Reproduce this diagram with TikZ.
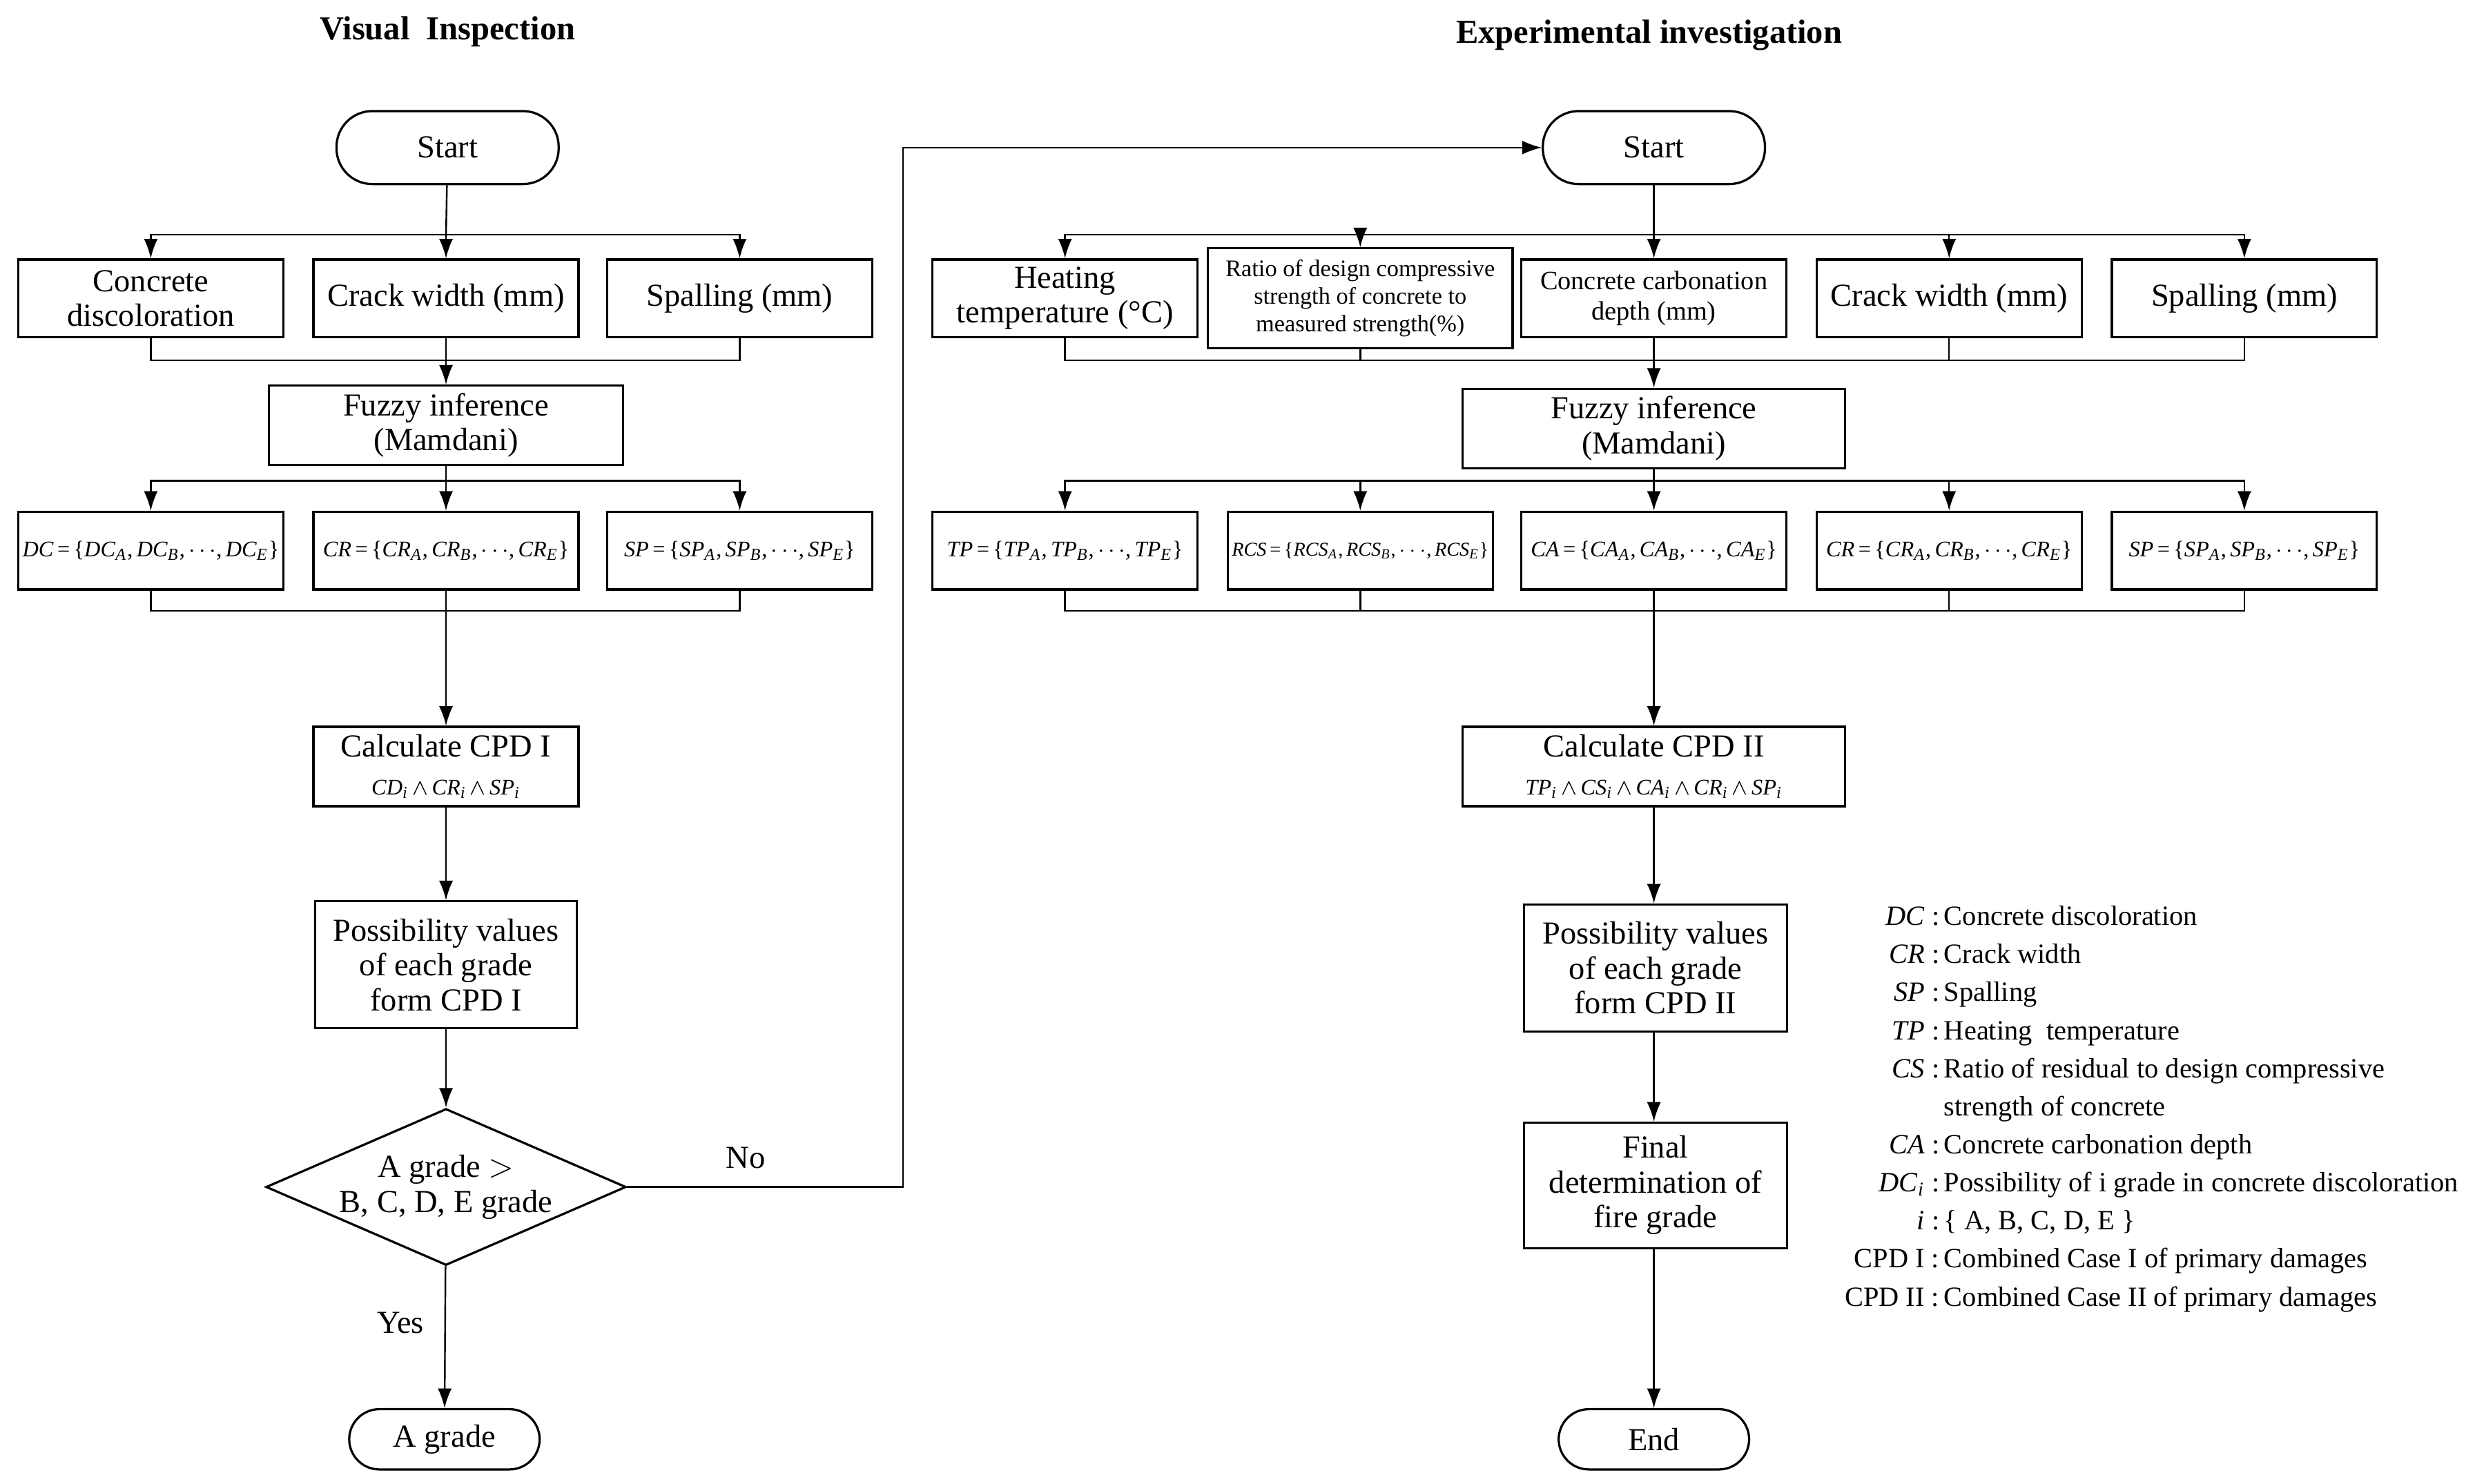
\documentclass[tikz,border=0pt]{standalone}
\usepackage{fontspec}
\setmainfont{Liberation Serif}
\usetikzlibrary{shapes.geometric,arrows.meta}
\newcommand{\vr}[2]{\textit{#1}\textsubscript{\textit{#2}}}
\newcommand{\vset}[1]{\textit{#1}\,=\,\{\vr{#1}{A},\,\vr{#1}{B},\,$\cdots$,\,\vr{#1}{E}\}}
\tikzset{
	box/.style={draw, line width=0.8pt, minimum width=3.34cm, minimum height=0.98cm, align=center, inner sep=1pt, font=\fontsize{11.5}{12.5}\selectfont},
	term/.style={draw, line width=0.8pt, rounded corners=0.45cm, minimum width=2.8cm, minimum height=0.92cm, font=\fontsize{11.5}{12.5}\selectfont},
	fml/.style={box, font=\fontsize{8}{9}\selectfont},
	arr/.style={-{Latex[length=7pt,width=5pt]}, line width=0.6pt},
	ln/.style={line width=0.6pt}
}
\begin{document}
\begin{tikzpicture}[x=0.02cm, y=-0.02cm]
	\useasboundingbox (0,0) rectangle (1565,935);
	\node[font=\bfseries\fontsize{12}{14}\selectfont] (t1) at (282,20) {Visual\ \ Inspection};
	\node[font=\bfseries\fontsize{12}{14}\selectfont] (t2) at (1039,22) {Experimental investigation};

	%Visual inspection
	\node[term] (ls1) at (282,93) {Start};
	\node[box] (lc1) at (95,188) {Concrete\\discoloration};
	\node[box] (lc2) at (281,188) {Crack width (mm)};
	\node[box] (lc3) at (466,188) {Spalling (mm)};
	\node[box, minimum width=4.46cm, minimum height=1cm] (lf) at (281,268) {Fuzzy inference\\(Mamdani)};
	\node[fml] (lm1) at (95,347) {\vset{DC}};
	\node[fml] (lm2) at (281,347) {\vset{CR}};
	\node[fml] (lm3) at (466,347) {\vset{SP}};
	\node[box, minimum height=1cm] (lcp) at (281,483) {Calculate CPD I\\[1pt]{\fontsize{8}{9}\selectfont\vr{CD}{i}\,$\wedge$\,\vr{CR}{i}\,$\wedge$\,\vr{SP}{i}}};
	\node[box, minimum width=3.3cm, minimum height=1.6cm] (lpv) at (281,608) {Possibility values\\of each grade\\form CPD I};
	\node[draw, line width=0.8pt, diamond, aspect=2.3, minimum width=4.44cm, minimum height=1.92cm, inner sep=0pt, align=center, font=\fontsize{11.5}{12.5}\selectfont] (ld) at (281,748) {A grade $>$\\B, C, D, E grade};
	\node[term, rounded corners=0.38cm, minimum width=2.4cm, minimum height=0.76cm] (la) at (280,907) {A grade};

	\coordinate (lsp1) at (281,148);
	\coordinate (lmg1) at (281,227);
	\coordinate (lsp2) at (281,303);
	\coordinate (lmg2) at (281,385);
	\draw[ln] (ls1) -- (lsp1);
	\foreach \n in {lc1,lc2,lc3} {
		\draw[arr] (lsp1) -| (\n);
		\draw[ln] (\n.south) |- (lmg1);
	}
	\draw[arr] (lmg1) -- (lf);
	\draw[ln] (lf) -- (lsp2);
	\foreach \n in {lm1,lm2,lm3} {
		\draw[arr] (lsp2) -| (\n);
		\draw[ln] (\n.south) |- (lmg2);
	}
	\draw[arr] (lmg2) -- (lcp);
	\draw[arr] (lcp) -- (lpv);
	\draw[arr] (lpv) -- (ld);
	\draw[arr] (ld) -- node[pos=0.4, left=4pt, font=\fontsize{11.5}{12.5}\selectfont] {Yes} (la);

	%Experimental investigation
	\node[term] (rs1) at (1042,93) {Start};
	\node[box] (rc1) at (671,188) {Heating\\temperature (°C)};
	\node[box, minimum width=3.84cm, minimum height=1.26cm, font=\fontsize{8.5}{10}\selectfont] (rc2) at (857,188) {Ratio of design compressive\\strength of concrete to\\measured strength(\%)};
	\node[box, font=\fontsize{9.5}{11}\selectfont] (rc3) at (1042,188) {Concrete carbonation\\depth (mm)};
	\node[box] (rc4) at (1228,188) {Crack width (mm)};
	\node[box] (rc5) at (1414,188) {Spalling (mm)};
	\node[box, minimum width=4.82cm, minimum height=1cm] (rf) at (1042,270) {Fuzzy inference\\(Mamdani)};
	\node[fml] (rm1) at (671,347) {\vset{TP}};
	\node[fml, font=\fontsize{7}{9}\selectfont] (rm2) at (857,347) {\vset{RCS}};
	\node[fml] (rm3) at (1042,347) {\vset{CA}};
	\node[fml] (rm4) at (1228,347) {\vset{CR}};
	\node[fml] (rm5) at (1414,347) {\vset{SP}};
	\node[box, minimum width=4.82cm, minimum height=1cm] (rcp) at (1042,483) {Calculate CPD II\\[1pt]{\fontsize{8}{9}\selectfont\vr{TP}{i}\,$\wedge$\,\vr{CS}{i}\,$\wedge$\,\vr{CA}{i}\,$\wedge$\,\vr{CR}{i}\,$\wedge$\,\vr{SP}{i}}};
	\node[box, minimum width=3.32cm, minimum height=1.6cm] (rpv) at (1043,610) {Possibility values\\of each grade\\form CPD II};
	\node[box, minimum width=3.32cm, minimum height=1.58cm] (rfd) at (1043,747) {Final\\determination of\\fire grade};
	\node[term, rounded corners=0.38cm, minimum width=2.4cm, minimum height=0.76cm] (re) at (1042,907) {End};

	\coordinate (rsp1) at (1042,148);
	\coordinate (rmg1) at (1042,227);
	\coordinate (rsp2) at (1042,303);
	\coordinate (rmg2) at (1042,385);
	\draw[ln] (rs1) -- (rsp1);
	\foreach \n in {rc1,rc2,rc3,rc4,rc5} {
		\draw[arr] (rsp1) -| (\n);
		\draw[ln] (\n.south) |- (rmg1);
	}
	\draw[arr] (rmg1) -- (rf);
	\draw[ln] (rf) -- (rsp2);
	\foreach \n in {rm1,rm2,rm3,rm4,rm5} {
		\draw[arr] (rsp2) -| (\n);
		\draw[ln] (\n.south) |- (rmg2);
	}
	\draw[arr] (rmg2) -- (rcp);
	\draw[arr] (rcp) -- (rcp |- rpv.north);
	\draw[arr] (rcp |- rpv.south) -- (rcp |- rfd.north);
	\draw[arr] (rcp |- rfd.south) -- (re);

	%No branch
	\coordinate (nk) at (569,748);
	\draw[arr] (ld.east) -- node[above=3pt, pos=0.43, font=\fontsize{11.5}{12.5}\selectfont] {No} (nk) |- (rs1.west);

	%Legende
	\node[anchor=north west, inner sep=0pt, font=\fontsize{10}{13}\selectfont] (leg) at (1162,566) {%
		\renewcommand{\arraystretch}{1.05}%
		\begin{tabular}{@{}r@{\,}l@{}}
			\textit{DC} : & Concrete discoloration\\
			\textit{CR} : & Crack width\\
			\textit{SP} : & Spalling\\
			\textit{TP} : & Heating\ \ temperature\\
			\textit{CS} : & Ratio of residual to design compressive\\
			& strength of concrete\\
			\textit{CA} : & Concrete carbonation depth\\
			\vr{DC}{i} : & Possibility of i grade in concrete discoloration\\
			\textit{i} : & \{ A, B, C, D, E \}\\
			CPD I : & Combined Case I of primary damages\\
			CPD II : & Combined Case II of primary damages
		\end{tabular}};
\end{tikzpicture}
\end{document}
